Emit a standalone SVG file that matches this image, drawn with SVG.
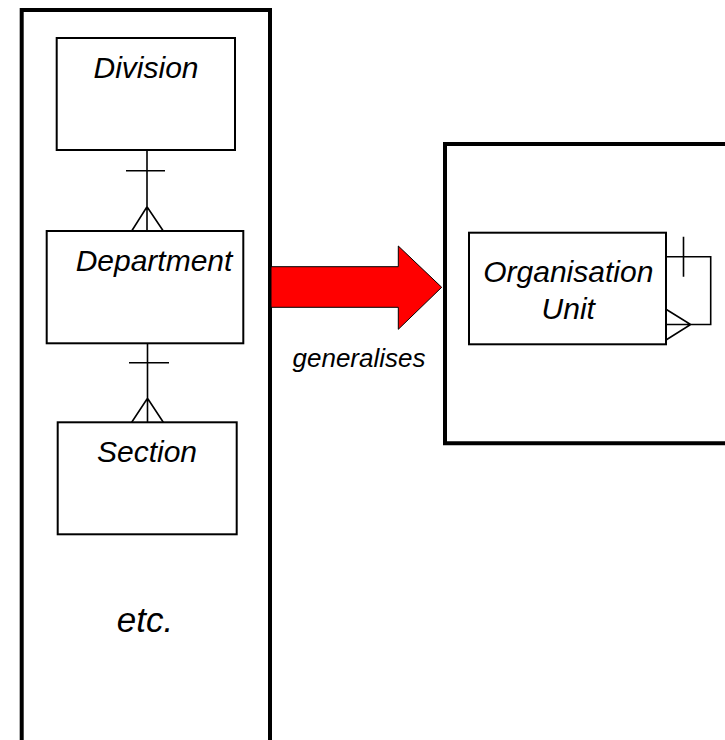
<svg xmlns="http://www.w3.org/2000/svg" width="725" height="740" viewBox="0 0 725 740">
<style>
.frame{fill:none;stroke:#000;stroke-width:4}
.box{fill:#fff;stroke:#000;stroke-width:2}
.ln{fill:none;stroke:#000;stroke-width:1.6}
.lbl{font-family:"Liberation Sans",Arial,sans-serif;font-style:italic;font-size:30px;fill:#000;text-anchor:middle}
</style>
<rect width="725" height="740" fill="#fff"/>
<g id="frame-left"><path class="frame" d="M21.7,750 V10 H270 V750"/></g>
<g id="frame-right"><path class="frame" d="M735,144 H445 V443.3 H735"/></g>
<g id="connectors">
<path class="ln" d="M147,150 V231 M126,170.7 H165 M131.7,231 L147,206.7 L163.3,231"/>
<path class="ln" d="M147.5,343.3 V422.3 M129,362.7 H169 M131.7,422.3 L147.5,398.3 L163.3,422.3"/>
<path class="ln" d="M666,256.7 H710.7 V324.5 H666 M683.5,236.7 V276.7 M666,309.3 L690.7,324.5 L666,340"/>
<path d="M271,266.7 H398.3 V246 L441.7,287.3 L398.3,329.3 V307.3 H271 Z" fill="#f00" stroke="#000" stroke-width="1"/>
<text class="lbl" x="359" y="366.7" style="font-size:26px">generalises</text>
</g>
<g id="division"><rect class="box" x="56.7" y="38" width="178.3" height="112"/><text class="lbl" x="146" y="78.3">Division</text></g>
<g id="department"><rect class="box" x="46.7" y="231" width="196.6" height="112.3"/><text class="lbl" x="154" y="270.7">Department</text></g>
<g id="section"><rect class="box" x="57.7" y="422.3" width="179" height="112"/><text class="lbl" x="147" y="461.7">Section</text></g>
<g id="etc"><text class="lbl" x="145" y="631.7" style="font-size:35px">etc.</text></g>
<g id="organisation-unit"><rect class="box" x="469" y="232.7" width="197" height="111.6"/><text class="lbl" x="568.3" y="281.7">Organisation</text><text class="lbl" x="568.3" y="319">Unit</text></g>
</svg>
